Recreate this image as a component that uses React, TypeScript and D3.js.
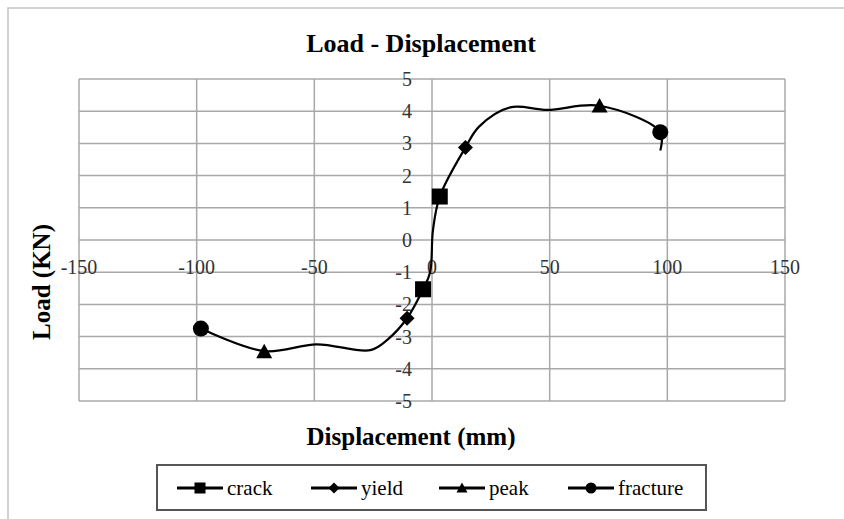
import * as d3 from 'd3';

// smoothed load–displacement curve
const displacement = [-98.2, -71.3, -49, -26.2, -19, -10.6, -3.8, -0.8, 0.4, 3.3, 14.2, 20, 33.3, 49, 71.2, 97, 97];
const load = [-2.75, -3.45, -3.24, -3.42, -3.1, -2.43, -1.53, -1.0, 0.3, 1.35, 2.87, 3.52, 4.12, 4.04, 4.17, 3.35, 2.78];

// marker series
const crackX = [-3.8, 3.3];
const crackY = [-1.53, 1.35];
const yieldX = [-10.6, 14.2];
const yieldY = [-2.43, 2.87];
const peakX = [-71.3, 71.2];
const peakY = [-3.47, 4.16];
const fractureX = [-98.2, 97];
const fractureY = [-2.75, 3.35];

const seriesNames = ['crack', 'yield', 'peak', 'fracture'];
const xTicks = [-150, -100, -50, 0, 50, 100, 150];
const yTicks = [-5, -4, -3, -2, -1, 0, 1, 2, 3, 4, 5];

const W = 844;
const H = 519;
const FONT = 'Liberation Serif';
const GRID = '#a8a8a8';

type Shape = 'square' | 'diamond' | 'triangle' | 'circle';

function Marker({ x, y, shape, s }: { x: number; y: number; shape: Shape; s: number }) {
  if (shape === 'square') return <rect x={x - s / 2} y={y - s / 2} width={s} height={s} fill="#000" />;
  if (shape === 'diamond') {
    const h = s / 2;
    return <path d={`M${x},${y - h}L${x + h},${y}L${x},${y + h}L${x - h},${y}Z`} fill="#000" />;
  }
  if (shape === 'triangle') {
    const h = s / 2;
    return <path d={`M${x},${y - h}L${x + h},${y + h * 0.8}L${x - h},${y + h * 0.8}Z`} fill="#000" />;
  }
  return <circle cx={x} cy={y} r={s / 2} fill="#000" />;
}

export default function App() {
  const left = 79;
  const right = 785;
  const top = 79;
  const bottom = 401;

  const x = d3.scaleLinear().domain([-150, 150]).range([left, right]);
  const y = d3.scaleLinear().domain([-5, 5]).range([bottom, top]);

  const pts = displacement.map((d, i) => [d, load[i]] as [number, number]);
  const line = d3.line<[number, number]>()
    .x(d => x(d[0]))
    .y(d => y(d[1]))
    .curve(d3.curveCatmullRom.alpha(0.5));

  const markerSeries: { xs: number[]; ys: number[]; shape: Shape; size: number }[] = [
    { xs: crackX, ys: crackY, shape: 'square', size: 16 },
    { xs: yieldX, ys: yieldY, shape: 'diamond', size: 15 },
    { xs: peakX, ys: peakY, shape: 'triangle', size: 16 },
    { xs: fractureX, ys: fractureY, shape: 'circle', size: 16 },
  ];
  const legendShapes: Shape[] = ['square', 'diamond', 'triangle', 'circle'];
  const legendX = [200, 334, 462, 591];

  return (
    <svg width={W} height={H} style={{ position: 'absolute', left: 0, top: 0, background: '#fff' }}>
      <rect x={8} y={8} width={W} height={H} fill="#fff" stroke="#c4c4c4" strokeWidth={1.5} />

      <text x={421} y={52} textAnchor="middle" fontSize={26} fontWeight="bold" fill="#000" fontFamily={FONT}>Load - Displacement</text>

      {/* grid */}
      {xTicks.map(t => (
        <line key={'gx' + t} x1={x(t)} x2={x(t)} y1={top} y2={bottom} stroke={GRID} strokeWidth={1.5} />
      ))}
      {yTicks.map(t => (
        <line key={'gy' + t} x1={left} x2={right} y1={y(t)} y2={y(t)} stroke={GRID} strokeWidth={1.5} />
      ))}

      {/* tick labels */}
      {yTicks.map(t => (
        <text key={'ly' + t} x={x(0) - 20} y={y(t)} dy="0.35em" textAnchor="end" fontSize={20} fill="#333" fontFamily={FONT}>{t}</text>
      ))}
      {xTicks.map(t => (
        <text key={'lx' + t} x={x(t)} y={y(0) + 34} textAnchor="middle" fontSize={20} fill="#333" fontFamily={FONT}>{t}</text>
      ))}

      {/* curve */}
      <path d={line(pts) || ''} fill="none" stroke="#000" strokeWidth={2.2} />
      {markerSeries.map((s, i) => s.xs.map((d, j) => (
        <Marker key={`m${i}-${j}`} x={x(d)} y={y(s.ys[j])} shape={s.shape} s={s.size} />
      )))}

      {/* axis titles */}
      <text x={411} y={445} textAnchor="middle" fontSize={25} fontWeight="bold" fill="#000" fontFamily={FONT}>Displacement (mm)</text>
      <text transform="translate(50,282) rotate(-90)" textAnchor="middle" fontSize={25} fontWeight="bold" fill="#000" fontFamily={FONT}>Load (KN)</text>

      {/* legend */}
      <rect x={157} y={465} width={549} height={45} fill="#fff" stroke="#555" strokeWidth={2} />
      {seriesNames.map((name, i) => (
        <g key={name}>
          <line x1={legendX[i] - 23} x2={legendX[i] + 23} y1={488} y2={488} stroke="#000" strokeWidth={3} />
          <Marker x={legendX[i]} y={488} shape={legendShapes[i]} s={11} />
          <text x={legendX[i] + 27} y={495} fontSize={21} fill="#000" fontFamily={FONT}>{name}</text>
        </g>
      ))}
    </svg>
  );
}
